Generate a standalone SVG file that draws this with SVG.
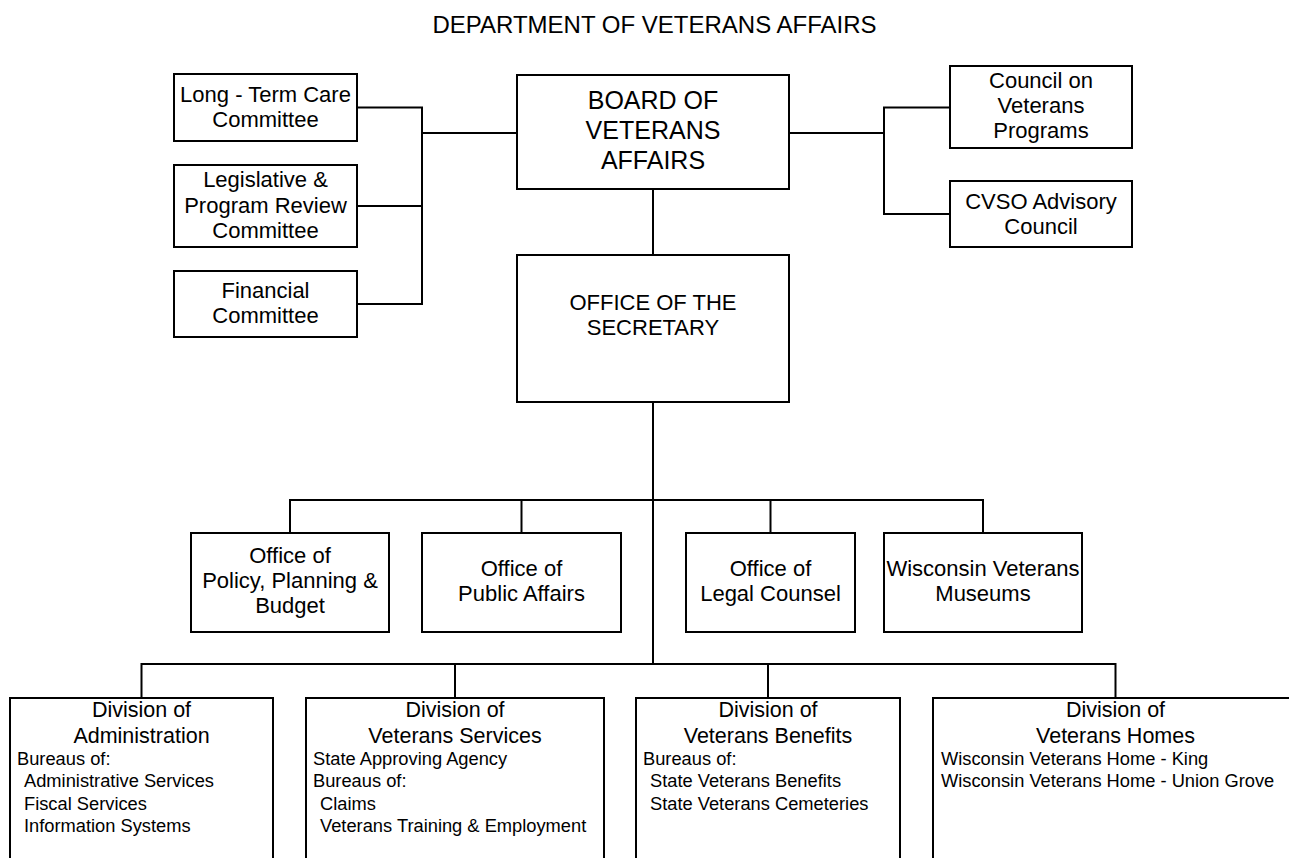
<svg xmlns="http://www.w3.org/2000/svg" width="1289" height="858" viewBox="0 0 1289 858">
<style>
  .box { fill: #ffffff; stroke: #000000; stroke-width: 2; }
  .conn { fill: none; stroke: #000000; stroke-width: 2; }
  text { font-family: "Liberation Sans", Arial, sans-serif; fill: #000000; }
  .title { font-size: 24px; text-anchor: middle; }
  .big { font-size: 25px; text-anchor: middle; }
  .mid { font-size: 22px; text-anchor: middle; }
  .div { font-size: 21.5px; text-anchor: middle; }
  .sub { font-size: 18.3px; }
</style>
<rect width="1289" height="858" fill="#ffffff"/>
<text class="title" x="654.5" y="32.5">DEPARTMENT OF VETERANS AFFAIRS</text>

<g id="connectors">
  <polyline class="conn" points="357,107.5 422,107.5 422,304 357,304"/>
  <line class="conn" x1="357" y1="206" x2="422" y2="206"/>
  <line class="conn" x1="422" y1="133" x2="517" y2="133"/>
  <line class="conn" x1="789" y1="133" x2="884" y2="133"/>
  <polyline class="conn" points="950,107.5 884,107.5 884,214 950,214"/>
  <line class="conn" x1="653" y1="189" x2="653" y2="255"/>
  <line class="conn" x1="653" y1="402" x2="653" y2="664"/>
  <polyline class="conn" points="290,533 290,500 983,500 983,533"/>
  <line class="conn" x1="521.5" y1="500" x2="521.5" y2="533"/>
  <line class="conn" x1="770.5" y1="500" x2="770.5" y2="533"/>
  <polyline class="conn" points="141.5,698 141.5,664 1115.5,664 1115.5,698"/>
  <line class="conn" x1="455" y1="664" x2="455" y2="698"/>
  <line class="conn" x1="768" y1="664" x2="768" y2="698"/>
</g>

<g id="long-term-care">
  <rect class="box" x="174" y="74" width="183" height="67"/>
  <text class="mid" x="265.5" y="101.5">Long - Term Care</text>
  <text class="mid" x="265.5" y="126.5">Committee</text>
</g>
<g id="legislative">
  <rect class="box" x="174" y="165" width="183" height="82"/>
  <text class="mid" x="265.5" y="187">Legislative &amp;</text>
  <text class="mid" x="265.5" y="212.5">Program Review</text>
  <text class="mid" x="265.5" y="238">Committee</text>
</g>
<g id="financial">
  <rect class="box" x="174" y="271" width="183" height="66"/>
  <text class="mid" x="265.5" y="298">Financial</text>
  <text class="mid" x="265.5" y="323">Committee</text>
</g>

<g id="board">
  <rect class="box" x="517" y="75" width="272" height="114"/>
  <text class="big" x="653" y="109">BOARD OF</text>
  <text class="big" x="653" y="139">VETERANS</text>
  <text class="big" x="653" y="169">AFFAIRS</text>
</g>

<g id="council">
  <rect class="box" x="950" y="66" width="182" height="82"/>
  <text class="mid" x="1041" y="88">Council on</text>
  <text class="mid" x="1041" y="113">Veterans</text>
  <text class="mid" x="1041" y="138">Programs</text>
</g>
<g id="cvso">
  <rect class="box" x="950" y="181" width="182" height="66"/>
  <text class="mid" x="1041" y="209">CVSO Advisory</text>
  <text class="mid" x="1041" y="233.5">Council</text>
</g>

<g id="secretary">
  <rect class="box" x="517" y="255" width="272" height="147"/>
  <text class="mid" x="653" y="310">OFFICE OF THE</text>
  <text class="mid" x="653" y="335">SECRETARY</text>
</g>

<g id="policy">
  <rect class="box" x="191" y="533" width="198" height="99"/>
  <text class="mid" x="290" y="563">Office of</text>
  <text class="mid" x="290" y="588">Policy, Planning &amp;</text>
  <text class="mid" x="290" y="613">Budget</text>
</g>
<g id="public-affairs">
  <rect class="box" x="422" y="533" width="199" height="99"/>
  <text class="mid" x="521.5" y="576">Office of</text>
  <text class="mid" x="521.5" y="601">Public Affairs</text>
</g>
<g id="legal">
  <rect class="box" x="686" y="533" width="169" height="99"/>
  <text class="mid" x="770.5" y="576">Office of</text>
  <text class="mid" x="770.5" y="601">Legal Counsel</text>
</g>
<g id="museums">
  <rect class="box" x="884" y="533" width="198" height="99"/>
  <text class="mid" x="983" y="576">Wisconsin Veterans</text>
  <text class="mid" x="983" y="601">Museums</text>
</g>

<g id="div-administration">
  <rect class="box" x="10" y="698" width="263" height="180"/>
  <text class="div" x="141.5" y="717">Division of</text>
  <text class="div" x="141.5" y="743">Administration</text>
  <text class="sub" x="17" y="764.5">Bureaus of:</text>
  <text class="sub" x="24" y="787">Administrative Services</text>
  <text class="sub" x="24" y="809.5">Fiscal Services</text>
  <text class="sub" x="24" y="832">Information Systems</text>
</g>
<g id="div-veterans-services">
  <rect class="box" x="306" y="698" width="298" height="180"/>
  <text class="div" x="455" y="717">Division of</text>
  <text class="div" x="455" y="743">Veterans Services</text>
  <text class="sub" x="313" y="764.5">State Approving Agency</text>
  <text class="sub" x="313" y="787">Bureaus of:</text>
  <text class="sub" x="320" y="809.5">Claims</text>
  <text class="sub" x="320" y="832">Veterans Training &amp; Employment</text>
</g>
<g id="div-veterans-benefits">
  <rect class="box" x="636" y="698" width="264" height="180"/>
  <text class="div" x="768" y="717">Division of</text>
  <text class="div" x="768" y="743">Veterans Benefits</text>
  <text class="sub" x="643" y="764.5">Bureaus of:</text>
  <text class="sub" x="650" y="787">State Veterans Benefits</text>
  <text class="sub" x="650" y="809.5">State Veterans Cemeteries</text>
</g>
<g id="div-veterans-homes">
  <rect class="box" x="933" y="698" width="365" height="180"/>
  <text class="div" x="1115.5" y="717">Division of</text>
  <text class="div" x="1115.5" y="743">Veterans Homes</text>
  <text class="sub" x="941" y="764.5">Wisconsin Veterans Home - King</text>
  <text class="sub" x="941" y="787">Wisconsin Veterans Home - Union Grove</text>
</g>
</svg>
